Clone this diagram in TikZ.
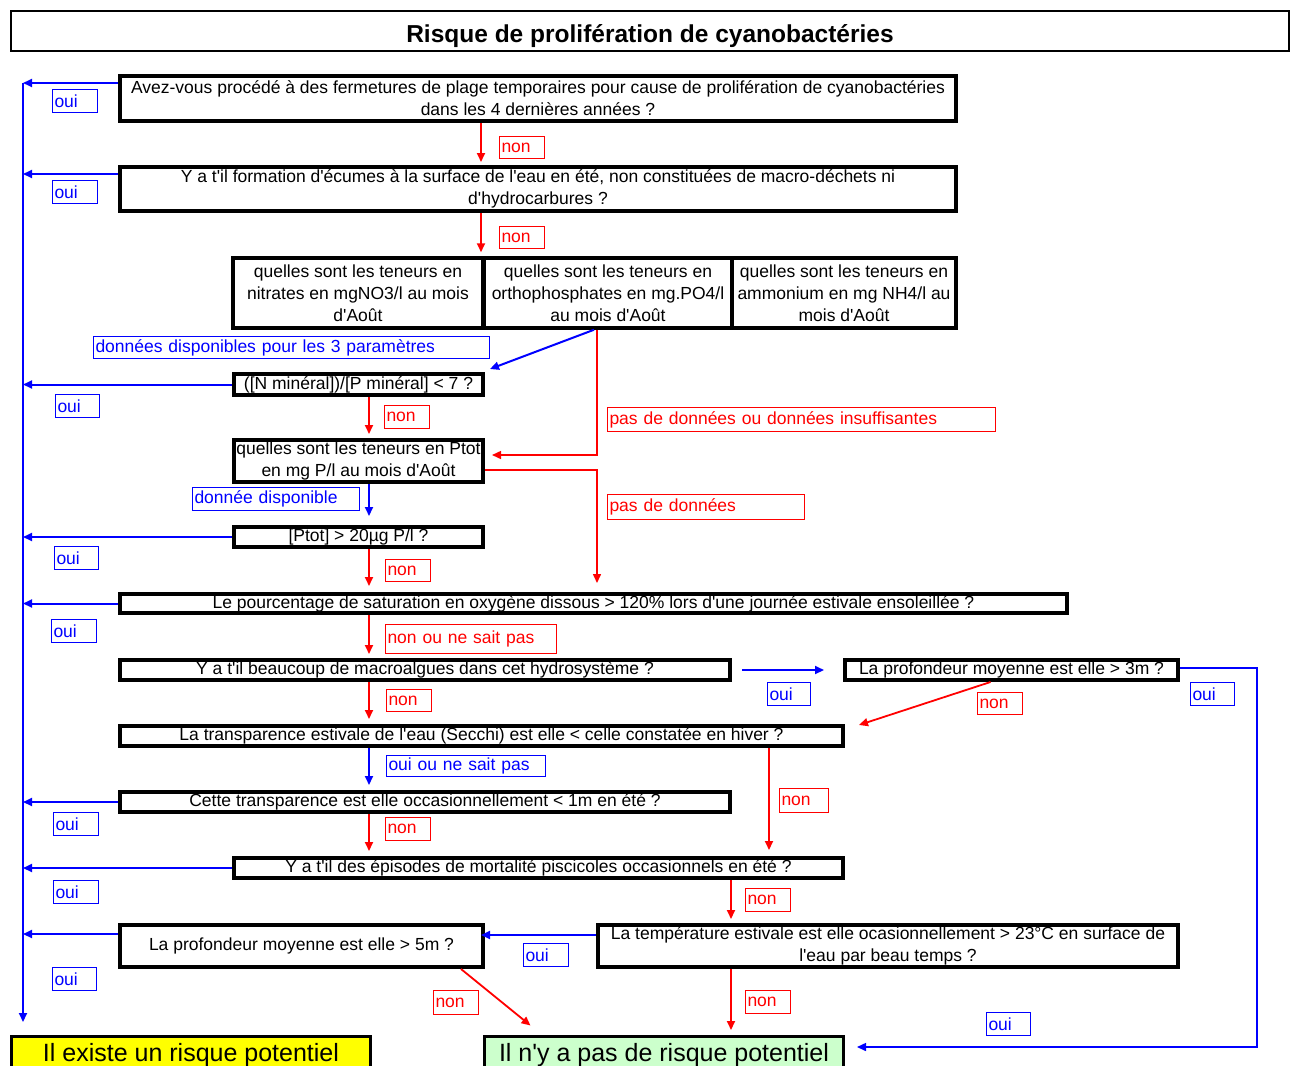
\documentclass[tikz,border=0pt]{standalone}
\usepackage{fontspec}
\setmainfont{Liberation Sans}
\usetikzlibrary{arrows.meta,calc}
\definecolor{rb}{RGB}{0,0,255}
\definecolor{rr}{RGB}{255,0,0}
\definecolor{fy}{RGB}{255,255,0}
\definecolor{fg}{RGB}{204,255,204}
\newcommand\bodyfont{\fontsize{17.5}{22}\selectfont}
\newcommand\ap{\textquotesingle}
\newcommand\lbl[7]{\pgfmathsetmacro\lbltw{#5-4}\node[lab, draw=#2, text=#2, text width=\lbltw pt, minimum height=#6pt] (#1) at (#3,#4) {#7};}
\begin{document}
\begin{tikzpicture}[x=1pt,y=-1pt,
 qbox/.style={draw, line width=4pt, inner sep=0pt, align=center, font=\bodyfont},
 fbox/.style={draw, line width=3pt, inner sep=0pt, minimum width=359pt, minimum height=38pt, font=\fontsize{25}{30}\selectfont},
 lab/.style={anchor=north west, line width=1pt, inner xsep=2pt, inner ysep=0pt, align=left, font=\bodyfont},
 barrow/.style={color=rb, line width=2pt, -{Triangle[length=9pt,width=8pt]}},
 rarrow/.style={color=rr, line width=1.8pt, -{Triangle[length=9pt,width=8pt]}},
 into/.style={shorten >=#1},
 ]
\useasboundingbox (0,0) rectangle (1295,1065);
\clip (0,0) rectangle (1295,1065);

% title
\node[draw, line width=2.5pt, minimum width=1278pt, minimum height=40pt, inner sep=0pt,
  font=\bfseries\fontsize{24.5}{28}\selectfont] (title) at (650,31) {\raisebox{-12pt}[0pt][0pt]{Risque de prolifération de cyanobactéries}};

% question boxes
\node[qbox, minimum width=836pt, minimum height=45pt] (q1) at (538,98.5)
  {Avez-vous procédé à des fermetures de plage temporaires pour cause de prolifération de cyanobactéries\\dans les 4 dernières années ?};
\node[qbox, minimum width=836pt, minimum height=44pt] (q2) at (538,189)
  {Y a t\ap il formation d\ap écumes à la surface de l\ap eau en été, non constituées de macro-déchets ni\\d\ap hydrocarbures ?};
\node[qbox, line width=3.5pt, minimum width=250pt, minimum height=70pt] (c1) at (358,293)
  {quelles sont les teneurs en\\nitrates en mgNO3/l au mois\\d\ap Août};
\node[qbox, line width=3.5pt, minimum width=248pt, minimum height=70pt] (c2) at (608,293)
  {quelles sont les teneurs en\\orthophosphates en mg.PO4/l\\au mois d\ap Août};
\node[qbox, line width=3.5pt, minimum width=224pt, minimum height=70pt] (c3) at (844,293)
  {quelles sont les teneurs en\\ammonium en mg NH4/l au\\mois d\ap Août};
\node[qbox, minimum width=249pt, minimum height=21pt] (ratio) at (358.5,384.5)
  {([N minéral])/[P minéral] < 7 ?};
\node[qbox, minimum width=249pt, minimum height=42pt] (ptot) at (358.5,461)
  {quelles sont les teneurs en Ptot\\en mg P/l au mois d\ap Août};
\node[qbox, minimum width=249pt, minimum height=20pt] (ptot20) at (358.5,537)
  {[Ptot] > 20µg P/l ?};
\node[qbox, minimum width=947pt, minimum height=19pt] (o2) at (593.5,603.5)
  {Le pourcentage de saturation en oxygène dissous > 120\% lors d\ap une journée estivale ensoleillée ?};
\node[qbox, minimum width=610pt, minimum height=20pt] (macro) at (425,670)
  {Y a t\ap il beaucoup de macroalgues dans cet hydrosystème ?};
\node[qbox, minimum width=333pt, minimum height=20pt] (prof3) at (1011.5,670)
  {La profondeur moyenne est elle > 3m ?};
\node[qbox, minimum width=723pt, minimum height=20pt] (transp) at (481.5,736)
  {La transparence estivale de l\ap eau (Secchi) est elle < celle constatée en hiver ?};
\node[qbox, minimum width=610pt, minimum height=20pt] (t1m) at (425,802)
  {Cette transparence est elle occasionnellement < 1m en été ?};
\node[qbox, minimum width=609pt, minimum height=20pt] (mort) at (538.5,868)
  {Y a t\ap il des épisodes de mortalité piscicoles occasionnels en été ?};
\node[qbox, minimum width=580pt, minimum height=42pt] (temp) at (888,946)
  {La température estivale est elle ocasionnellement > 23°C en surface de\\l\ap eau par beau temps ?};
\node[qbox, minimum width=363pt, minimum height=42pt] (prof5) at (301.5,946)
  {La profondeur moyenne est elle > 5m ?};
\node[fbox, fill=fy] (fin1) at (191,1055.5) {Il existe un risque potentiel};
\node[fbox, fill=fg] (fin2) at (664,1055.5) {Il n\ap y a pas de risque potentiel};

% helper coordinates
\coordinate (xa) at (481,0);
\coordinate (xb) at (369,0);
\coordinate (xc) at (597,0);
\coordinate (xd) at (769,0);
\coordinate (xe) at (731,0);
\coordinate (bus) at (23,0);
\coordinate (bt) at (23,83);
\coordinate (b2) at (23,174);
\coordinate (b9) at (23,934);
\coordinate (bb) at (23,1022);
\coordinate (y935) at (0,935);
\coordinate (t2) at (597,583);
\coordinate (lp) at (1257,1047);
\coordinate (lpe) at (857,1047);

% left "oui" bus
\draw[barrow] (bt) -- (bb);
\draw[barrow] (q1.west |- bt) -- (bt);
\draw[barrow] (q2.west |- b2) -- (b2);
\draw[barrow] (ratio.west) -- (ratio.west -| bus);
\draw[barrow] (ptot20.west) -- (ptot20.west -| bus);
\draw[barrow] (o2.west) -- (o2.west -| bus);
\draw[barrow] (t1m.west) -- (t1m.west -| bus);
\draw[barrow] (mort.west) -- (mort.west -| bus);
\draw[barrow] (prof5.west |- b9) -- (b9);

% main chain
\draw[rarrow, into=3pt] (q1.south -| xa) -- (q2.north -| xa);
\draw[rarrow, into=4pt] (q2.south -| xa) -- (c1.north -| xa);
\draw[barrow] ([xshift=-14pt]c2.south) -- ([xshift=5pt,yshift=3pt]ratio.north east);
\draw[rarrow, line width=1.5pt] (c2.south -| xc) |- ([xshift=7pt,yshift=6pt]ptot.east);
\draw[rarrow, line width=1.5pt] ([yshift=-9pt]ptot.east) -| (t2);
\draw[rarrow, into=4pt] (ratio.south -| xb) -- (ptot.north -| xb);
\draw[barrow, into=9pt] (ptot.south -| xb) -- (ptot20.north -| xb);
\draw[rarrow, into=6pt] (ptot20.south -| xb) -- (o2.north -| xb);
\draw[rarrow, into=4pt] (o2.south -| xb) -- (macro.north -| xb);
\draw[barrow] ([xshift=10pt]macro.east) -- ([xshift=-19pt]prof3.west);
\draw[rarrow, into=5pt] (macro.south -| xb) -- (transp.north -| xb);
\draw[rarrow] ([xshift=-21pt]prof3.south) -- ([xshift=14pt,yshift=-1pt]transp.north east);
\draw[barrow, line width=1.5pt] ([yshift=2pt]prof3.east) -| (lp) -- (lpe);
\draw[barrow, into=5pt] (transp.south -| xb) -- (t1m.north -| xb);
\draw[rarrow, into=6pt] (transp.south -| xd) -- (mort.north -| xd);
\draw[rarrow, into=5pt] (t1m.south -| xb) -- (mort.north -| xb);
\draw[rarrow, into=4pt] (mort.south -| xe) -- (temp.north -| xe);
\draw[barrow, into=-4pt] (temp.west |- y935) -- (prof5.east |- y935);
\draw[rarrow, into=5pt] (temp.south -| xe) -- (fin2.north -| xe);
\draw[rarrow] ([xshift=-24pt]prof5.south east) -- ([xshift=47.5pt,yshift=9.5pt]fin2.north west);

% labels
\lbl{l1}{rb}{52}{89}{45}{23}{oui}
\lbl{l2}{rr}{499}{136}{45}{22}{non}
\lbl{l3}{rb}{52}{180}{45}{23}{oui}
\lbl{l4}{rr}{499}{226}{45}{22}{non}
\lbl{l5}{rb}{93}{336}{396}{22}{données disponibles pour les 3 paramètres}
\lbl{l6}{rb}{55}{394}{44}{23}{oui}
\lbl{l7}{rr}{384}{405}{45}{23}{non}
\lbl{l8}{rr}{607}{407}{388}{24}{pas de données ou données insuffisantes}
\lbl{l9}{rb}{192}{487}{167}{23}{donnée disponible}
\lbl{l10}{rr}{607}{494}{197}{25}{pas de données}
\lbl{l11}{rb}{54}{546}{44}{23}{oui}
\lbl{l12}{rr}{385}{559}{45}{22}{non}
\lbl{l13}{rb}{51}{619}{45}{23}{oui}
\lbl{l14}{rr}{385}{624}{171}{29}{non ou ne sait pas}
\lbl{l15}{rb}{767}{682}{43}{23}{oui}
\lbl{l16}{rb}{1190}{682}{44}{23}{oui}
\lbl{l17}{rr}{977}{692}{45}{22}{non}
\lbl{l18}{rr}{386}{689}{45}{22}{non}
\lbl{l19}{rb}{386}{755}{159}{21}{oui ou ne sait pas}
\lbl{l20}{rr}{779}{788}{49}{24}{non}
\lbl{l21}{rb}{53}{812}{45}{23}{oui}
\lbl{l22}{rr}{385}{817}{45}{23}{non}
\lbl{l23}{rb}{53}{880}{45}{23}{oui}
\lbl{l24}{rr}{745}{888}{45}{23}{non}
\lbl{l25}{rb}{523}{943}{45}{23}{oui}
\lbl{l26}{rb}{52}{967}{44}{23}{oui}
\lbl{l27}{rr}{433}{990}{45}{24}{non}
\lbl{l28}{rr}{745}{990}{45}{23}{non}
\lbl{l29}{rb}{986}{1012}{44}{23}{oui}
\end{tikzpicture}
\end{document}
